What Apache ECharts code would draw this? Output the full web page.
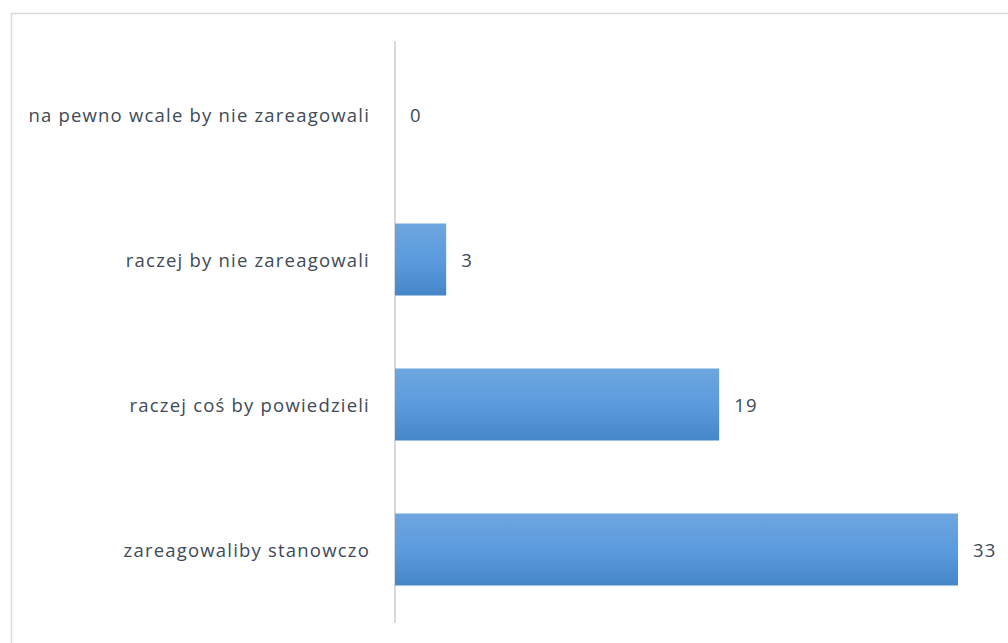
<!DOCTYPE html>
<html><head><meta charset="utf-8">
<script src="https://cdn.jsdelivr.net/npm/echarts@6/dist/echarts.min.js"></script>
<style>html,body{margin:0;padding:0;background:#fff}#c{width:1008px;height:643px}#c text{letter-spacing:1.2px}</style>
</head><body><div id="c"></div>
<script>
const categories = ['zareagowaliby stanowczo', 'raczej coś by powiedzieli', 'raczej by nie zareagowali', 'na pewno wcale by nie zareagowali'];
const values = [33, 19, 3, 0];

const FONT = '"Open Sans", sans-serif';
const chart = echarts.init(document.getElementById('c'), null, {renderer: 'svg'});
chart.setOption({
  animation: false,
  backgroundColor: '#fff',
  graphic: [{
    type: 'rect', left: 9, top: 11, shape: {width: 1010, height: 650},
    style: {fill: 'none', stroke: '#d9d9d9', lineWidth: 1.5}, silent: true
  }],
  grid: {left: 395, right: 50, top: 42, bottom: 21, containLabel: false},
  xAxis: {
    type: 'value', min: 0, max: 33, show: false,
    splitLine: {show: false}
  },
  yAxis: {
    type: 'category', data: categories,
    axisLine: {show: true, lineStyle: {color: '#d9d9d9', width: 2}},
    axisTick: {show: false},
    axisLabel: {color: '#404a58', fontSize: 18.5, fontFamily: FONT, margin: 25, padding: [6, 0, 0, 0]}
  },
  series: [{
    type: 'bar', data: values, barWidth: 72,
    itemStyle: {
      color: new echarts.graphic.LinearGradient(0, 0, 0, 1, [
        {offset: 0, color: '#6EA6DF'},
        {offset: 0.5, color: '#5B9BDE'},
        {offset: 1, color: '#4586C9'}
      ])
    },
    label: {show: true, position: 'right', distance: 15, color: '#404a58', fontSize: 18.5, fontFamily: FONT, padding: [6, 0, 0, 0]}
  }]
});
</script></body></html>
